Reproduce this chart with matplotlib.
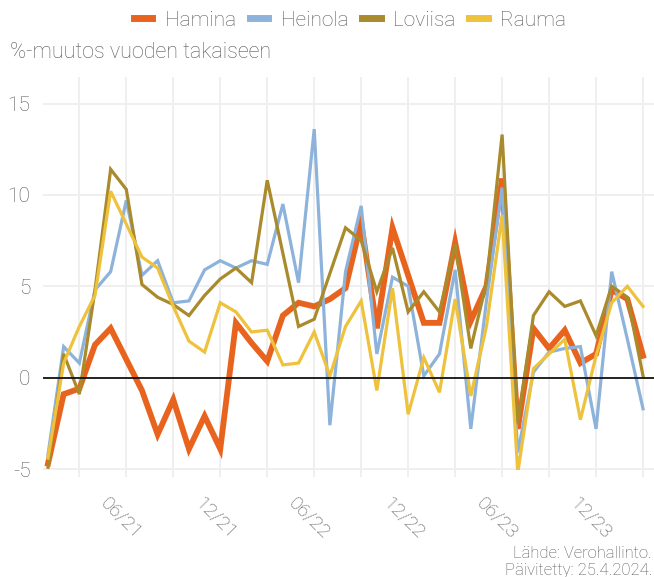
import matplotlib
matplotlib.use("Agg")
import matplotlib.pyplot as plt
import matplotlib.transforms as mtransforms
import numpy as np

plt.rcParams['font.family'] = ['Roboto', 'DejaVu Sans']
plt.rcParams['font.weight'] = 'light'

months = [f"{m:02d}/{y:02d}" for y in (21, 22, 23, 24) for m in range(1, 13)][:39]

hamina = [-4.7, -0.9, -0.6, 1.8, 2.7, 1.0, -0.7, -3.1, -1.2, -3.9, -2.1, -3.9,
          3.0, 1.9, 0.9, 3.4, 4.1, 3.9, 4.3, 4.9, 8.5, 2.7, 8.2, 5.6,
          3.0, 3.0, 7.4, 3.1, 5.0, 10.9, -2.8, 2.7, 1.6, 2.6, 0.8, 1.3,
          4.8, 4.3, 1.2]
heinola = [-4.2, 1.7, 0.8, 4.8, 5.8, 9.7, 5.6, 6.4, 4.1, 4.2, 5.9, 6.4,
           6.0, 6.4, 6.2, 9.5, 5.2, 13.6, -2.6, 5.8, 9.4, 1.3, 5.5, 5.0,
           0.1, 1.3, 5.9, -2.8, 4.2, 10.4, -4.1, 0.3, 1.4, 1.6, 1.7, -2.8,
           5.8, 2.1, -1.7]
loviisa = [-4.9, 1.3, -0.9, 4.8, 11.4, 10.3, 5.1, 4.4, 4.0, 3.4, 4.5, 5.4,
           6.0, 5.2, 10.8, 6.8, 2.8, 3.2, 5.7, 8.2, 7.5, 4.7, 7.1, 3.6,
           4.7, 3.6, 7.3, 1.6, 5.2, 13.3, -2.5, 3.4, 4.7, 3.9, 4.2, 2.3,
           5.0, 4.4, 0.1]
rauma = [-4.4, 0.8, 2.8, 4.5, 10.2, 8.4, 6.6, 6.0, 3.9, 2.0, 1.4, 4.1,
         3.6, 2.5, 2.6, 0.7, 0.8, 2.5, 0.1, 2.8, 4.2, -0.7, 4.9, -2.0,
         1.1, -0.8, 4.3, -1.0, 2.8, 8.9, -5.2, 0.5, 1.3, 2.1, -2.3, 1.2,
         4.1, 5.0, 3.9]

series_names = ["Hamina", "Heinola", "Loviisa", "Rauma"]
series_vals = [hamina, heinola, loviisa, rauma]
colors = ["#E8641E", "#8DB3DB", "#A98A2C", "#EEC23C"]
widths = [4.2, 2.3, 2.3, 2.3]

yticks = [-5, 0, 5, 10, 15]
label_months = ["06/21", "12/21", "06/22", "12/22", "06/23", "12/23"]

text_c = "#585858"
W, H = 654, 577
fig = plt.figure(figsize=(W / 100, H / 100), dpi=100)
L, R, T, B = 43, 654, 77, 470
ax = fig.add_axes([L / W, (H - B) / H, (R - L) / W, (B - T) / H])

x = np.arange(len(months))
lines = []
for name, vals, c, lw in zip(series_names, series_vals, colors, widths):
    ln, = ax.plot(x, vals, color=c, lw=lw, solid_joinstyle='miter', label=name, zorder=3)
    lines.append(ln)

ax.set_xlim(-0.32, 38.7)
ax.set_ylim(-5.05, 16.45)

# grid
grid_c = "#efefef"
for xv in range(2, len(months), 3):
    ax.axvline(xv, color=grid_c, lw=1.4, zorder=1)
for yv in yticks:
    if yv != 0:
        ax.axhline(yv, color=grid_c, lw=1.4, zorder=1)
ax.axhline(0, color="#111111", lw=1.3, zorder=4)

for s in ax.spines.values():
    s.set_visible(False)

ax.set_yticks(yticks)
ax.set_yticklabels([str(v) for v in yticks])
ax.tick_params(axis='y', length=0, pad=9, labelsize=15, labelcolor=text_c)

ax.set_xticks(range(2, len(months), 3))
ax.set_xticklabels([months[i] if months[i] in label_months else "" for i in range(2, len(months), 3)])
ax.tick_params(axis='x', length=5, width=1.4, color=grid_c, pad=4, labelsize=14,
               labelcolor=text_c)
offset = mtransforms.ScaledTranslation(-5 / 100, -12 / 100, fig.dpi_scale_trans)
for lab in ax.get_xticklabels():
    lab.set_rotation(-45)
    lab.set_ha('center')
    lab.set_va('top')
    lab.set_transform(lab.get_transform() + offset)

fig.text(10 / W, 1 - 53 / H, "%-muutos vuoden takaiseen", fontsize=15.5, color=text_c,
         va='center', ha='left')

leg = fig.legend(handles=lines, labels=series_names, loc='center',
                 bbox_to_anchor=(350 / W, 1 - 20 / H), ncol=4, frameon=False,
                 fontsize=15, handlelength=0.9, handletextpad=0.6, columnspacing=0.65,
                 labelcolor=text_c)
for h in leg.legend_handles:
    h.set_linewidth(5)

fig.text(652 / W, 1 - 553 / H, "Lähde: Verohallinto.", fontsize=12, color=text_c,
         ha='right', va='center')
fig.text(652 / W, 1 - 570 / H, "Päivitetty: 25.4.2024.", fontsize=12, color=text_c,
         ha='right', va='center')

fig.savefig("out.png", dpi=100)
